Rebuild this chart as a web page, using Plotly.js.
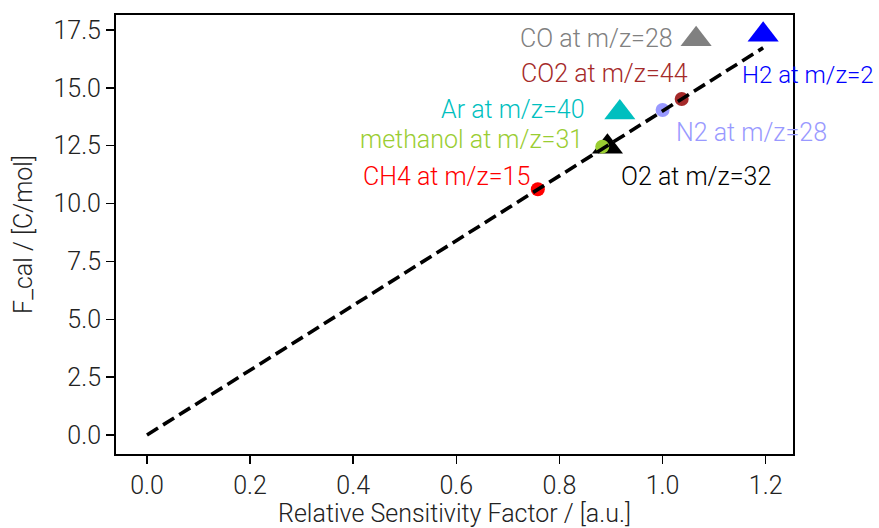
<!DOCTYPE html>
<html>
<head>
<meta charset="utf-8">
<script src="https://cdn.plot.ly/plotly-3.0.1.min.js"></script>
<style>html,body{margin:0;padding:0;background:#fff;}#chart{width:879px;height:528px;}</style>
</head>
<body>
<div id="chart"></div>
<script>
// Data (drawing order: O2 before methanol, as in the reference)
const gases   = ["CO", "H2", "Ar", "O2", "CO2", "N2", "methanol", "CH4"];
const labels  = ["CO at m/z=28", "H2 at m/z=2", "Ar at m/z=40", "O2 at m/z=32", "CO2 at m/z=44", "N2 at m/z=28", "methanol at m/z=31", "CH4 at m/z=15"];
const rsf     = [1.065, 1.195, 0.917, 0.893, 1.037, 1.000, 0.883, 0.758];
const fcal    = [17.10, 17.29, 13.93, 12.46, 14.52, 14.04, 12.46, 10.62];
const colors  = ["#808080", "#0000ff", "#00bfbf", "#000000", "#a52a2a", "#9999ff", "#9acd32", "#ff0000"];
const symbols = ["triangle-up", "triangle-up", "triangle-up", "triangle-up", "circle", "circle", "circle", "circle"];
const fitX = [0, 1.195];
const fitY = [0, 16.73];

// Styling: label placement relative to each point (pixels)
const labelStyle = {
  "CO":       {xanchor: "right", xshift: -21, yshift: 1,   size: 25},
  "CO2":      {xanchor: "right", xshift: 8,   yshift: 25,  size: 25},
  "H2":       {xanchor: "left",  xshift: -23, yshift: -40, size: 24},
  "Ar":       {xanchor: "right", xshift: -33, yshift: 3,   size: 25},
  "N2":       {xanchor: "left",  xshift: 11,  yshift: -22, size: 25},
  "methanol": {xanchor: "right", xshift: -17, yshift: 7,   size: 25},
  "O2":       {xanchor: "left",  xshift: 12,  yshift: -30, size: 25},
  "CH4":      {xanchor: "right", xshift: -6,  yshift: 13,  size: 25}
};

const FONT = "Roboto, 'DejaVu Sans', sans-serif";
const FS = 25;

const traces = gases.map((g, i) => ({
  type: "scatter", mode: "markers",
  x: [rsf[i]], y: [fcal[i]], name: g,
  marker: {
    symbol: symbols[i],
    color: colors[i],
    size: symbols[i] === "circle" ? 14 : 27,
    line: {width: 0}
  },
  hoverinfo: "skip", showlegend: false
}));
traces.push({
  type: "scatter", mode: "lines", x: fitX, y: fitY,
  line: {color: "#000", width: 3.6, dash: "13px,6px"},
  hoverinfo: "skip", showlegend: false
});

const annotations = gases.map((g, i) => ({
  x: rsf[i], y: fcal[i], xref: "x", yref: "y",
  text: labels[i], showarrow: false,
  xanchor: labelStyle[g].xanchor, yanchor: "middle",
  xshift: labelStyle[g].xshift, yshift: labelStyle[g].yshift,
  font: {family: FONT, size: labelStyle[g].size, color: colors[i], weight: 300}
}));

const axisCommon = {
  showgrid: false, zeroline: false,
  showline: true, linecolor: "#000", linewidth: 2, mirror: true,
  ticks: "outside", ticklen: 8, tickwidth: 1.5, tickcolor: "#000",
  tickfont: {family: FONT, size: FS, color: "#222", weight: 300}
};

const layout = {
  width: 879, height: 528,
  margin: {l: 116, r: 86, t: 15, b: 74},
  paper_bgcolor: "#fff", plot_bgcolor: "#fff",
  xaxis: Object.assign({}, axisCommon, {
    range: [-0.0601, 1.2529],
    tickvals: [0, 0.2, 0.4, 0.6, 0.8, 1.0, 1.2],
    ticktext: ["0.0", "0.2", "0.4", "0.6", "0.8", "1.0", "1.2"],
    title: {text: "Relative Sensitivity Factor / [a.u.]", font: {family: FONT, size: FS, color: "#222", weight: 300}, standoff: 4}
  }),
  yaxis: Object.assign({}, axisCommon, {
    range: [-0.821, 18.148],
    tickvals: [0, 2.5, 5, 7.5, 10, 12.5, 15, 17.5],
    ticktext: ["0.0", "2.5", "5.0", "7.5", "10.0", "12.5", "15.0", "17.5"],
    title: {text: "F_cal / [C/mol]", font: {family: FONT, size: FS, color: "#222", weight: 300}, standoff: 14}
  }),
  annotations: annotations,
  showlegend: false
};

Plotly.newPlot("chart", traces, layout, {staticPlot: true, displayModeBar: false});
</script>
</body>
</html>
